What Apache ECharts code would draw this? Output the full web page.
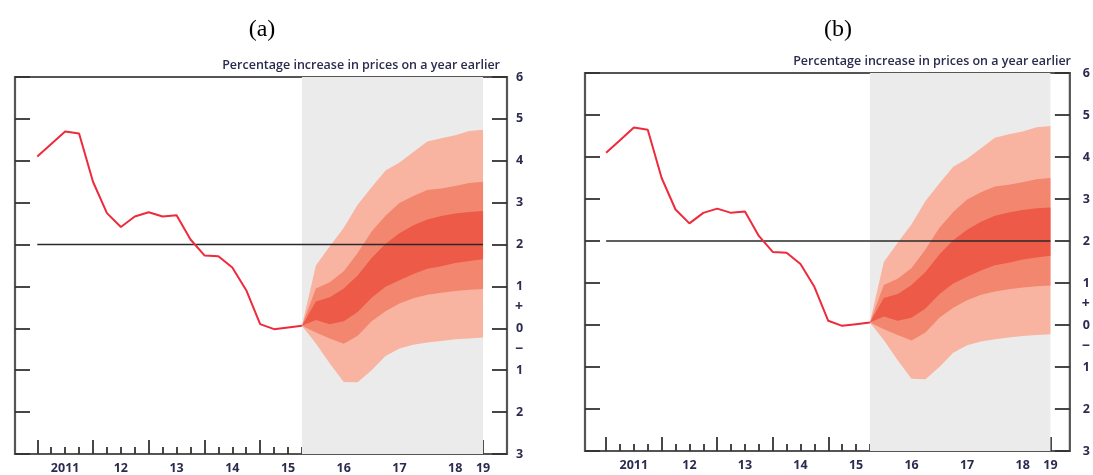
<!DOCTYPE html>
<html>
<head>
<meta charset="utf-8">
<script src="https://cdn.jsdelivr.net/npm/echarts@6/dist/echarts.min.js"></script>
<style>
  html, body { margin: 0; padding: 0; background: #ffffff; }
  #chart { width: 1093px; height: 475px; }
</style>
</head>
<body>
<div id="chart"></div>
<script>
// CPI inflation, percentage change on a year earlier (quarterly)
const cpiDates = [2011, 2011.25, 2011.5, 2011.75, 2012, 2012.25, 2012.5, 2012.75,
                  2013, 2013.25, 2013.5, 2013.75, 2014, 2014.25, 2014.5, 2014.75,
                  2015, 2015.25, 2015.5, 2015.75];
const cpiValues = [4.10, 4.40, 4.70, 4.65, 3.50, 2.75, 2.42, 2.67,
                   2.77, 2.67, 2.70, 2.12, 1.74, 1.72, 1.45, 0.91,
                   0.10, -0.02, 0.02, 0.06];

// Projection fan: quarterly dates and band edges (outer, middle, inner)
const fanDates = [2015.75, 2016, 2016.25, 2016.5, 2016.75, 2017, 2017.25,
                  2017.5, 2017.75, 2018, 2018.25, 2018.5, 2018.75, 2019];
const outerHigh = [0.06, 1.50, 1.96, 2.40, 2.95, 3.37, 3.77, 3.96, 4.21, 4.46, 4.54, 4.61, 4.71, 4.74];
const middleHigh = [0.06, 0.95, 1.10, 1.36, 1.80, 2.31, 2.69, 2.99, 3.16, 3.30, 3.34, 3.40, 3.47, 3.50];
const innerHigh = [0.06, 0.64, 0.74, 0.95, 1.26, 1.68, 2.02, 2.27, 2.46, 2.60, 2.68, 2.74, 2.78, 2.80];
const innerLow = [0.06, 0.20, 0.10, 0.17, 0.39, 0.73, 0.99, 1.15, 1.30, 1.42, 1.48, 1.56, 1.61, 1.65];
const middleLow = [0.06, -0.10, -0.24, -0.37, -0.18, 0.17, 0.41, 0.59, 0.72, 0.80, 0.85, 0.89, 0.92, 0.94];
const outerLow = [0.06, -0.36, -0.84, -1.28, -1.29, -1.00, -0.66, -0.48, -0.39, -0.34, -0.30, -0.26, -0.24, -0.22];

// 2% target line and projection period
const targetDates = [2011, 2019];
const targetValues = [2, 2];
const projectionSpan = [2015.75, 2019];

// Axis ticks and labels
const yMin = -3, yMax = 6, yStep = 1;
const yearTicks = [2011, 2012, 2013, 2014, 2015, 2016, 2017, 2018, 2019];
const xLabelPos = [2011.5, 2012.5, 2013.5, 2014.5, 2015.5, 2016.5, 2017.5, 2018.5, 2019];
const xLabelText = ['2011', '12', '13', '14', '15', '16', '17', '18', '19'];
const signPos = [0.5, -0.5];
const signText = ['+', '\u2212'];

const panelTitles = ['(a)', '(b)'];
const unitsNote = 'Percentage increase in prices on a year earlier';

// quarter tick marks between the year ticks
const quarterTicks = [];
for (let i = 0; i < yearTicks.length - 1; i++) {
  [0.25, 0.5, 0.75].forEach(q => quarterTicks.push(yearTicks[i] + q));
}

const COLORS = {
  line: '#ee2a3c', target: '#2a2a2a', shade: '#ebebeb',
  outer: '#f8b4a1', middle: '#f2866f', inner: '#ee5a48',
  frame: '#555555', tick: '#333333', label: '#2b2b4f'
};
const labelFont = { fontFamily: 'Open Sans', fontSize: 12.5, fontWeight: 700, color: COLORS.label };

const layouts = [
  { grid: { left: 15, top: 77, width: 492, height: 378 }, xMin: 2010.6, xMax: 2019.43,
    labelGap: 9, titleX: 262, titleY: 30, noteX: 500, noteY: 65 },
  { grid: { left: 585, top: 73, width: 488, height: 378 }, xMin: 2010.62, xMax: 2019.35,
    labelGap: 13, titleX: 838, titleY: 30, noteX: 1071, noteY: 61 }
];

const grids = [], xAxes = [], yAxes = [], series = [], graphics = [];

layouts.forEach((L, gi) => {
  grids.push(Object.assign({
    show: true, borderColor: COLORS.frame, borderWidth: 2.2, backgroundColor: 'transparent'
  }, L.grid));

  // years: long ticks + labels
  xAxes.push({
    type: 'value', gridIndex: gi, min: L.xMin, max: L.xMax, position: 'bottom',
    axisLine: { show: false, onZero: false },
    splitLine: { show: false },
    axisTick: { show: true, inside: true, length: 14, customValues: yearTicks,
                lineStyle: { color: COLORS.tick, width: 1.8 } },
    axisLabel: Object.assign({ show: true, margin: 8, customValues: xLabelPos,
                formatter: v => { const k = xLabelPos.indexOf(v); return k >= 0 ? xLabelText[k] : ''; } }, labelFont)
  });
  // quarters: short ticks
  xAxes.push({
    type: 'value', gridIndex: gi, min: L.xMin, max: L.xMax, position: 'bottom',
    axisLine: { show: false, onZero: false },
    splitLine: { show: false },
    axisTick: { show: true, inside: true, length: 7, customValues: quarterTicks,
                lineStyle: { color: COLORS.tick, width: 1.8 } },
    axisLabel: { show: false }
  });

  // right scale with labels
  yAxes.push({
    type: 'value', gridIndex: gi, min: yMin, max: yMax, interval: yStep, position: 'right',
    axisLine: { show: false, onZero: false }, splitLine: { show: false },
    axisTick: { show: true, inside: true, length: 15, lineStyle: { color: COLORS.tick, width: 1.8 } },
    axisLabel: Object.assign({ margin: L.labelGap, formatter: v => String(Math.abs(v)) }, labelFont)
  });
  // left tick marks
  yAxes.push({
    type: 'value', gridIndex: gi, min: yMin, max: yMax, interval: yStep, position: 'left',
    axisLine: { show: false, onZero: false }, splitLine: { show: false },
    axisTick: { show: true, inside: true, length: 15, lineStyle: { color: COLORS.tick, width: 1.8 } },
    axisLabel: { show: false }
  });
  // +/- sign markers either side of zero
  yAxes.push({
    type: 'value', gridIndex: gi, min: yMin, max: yMax, interval: yStep / 2, position: 'right',
    axisLine: { show: false, onZero: false }, splitLine: { show: false },
    axisTick: { show: false },
    axisLabel: Object.assign({ margin: L.labelGap - 1,
      formatter: v => { const k = signPos.indexOf(v); return k >= 0 ? signText[k] : ''; } }, labelFont, { fontSize: 14 })
  });

  const xi = gi * 2, yi = gi * 3;

  // projection-period shading
  series.push({
    type: 'custom', xAxisIndex: xi, yAxisIndex: yi, z: 1, silent: true,
    data: [[projectionSpan[0], yMax]],
    renderItem: (params, api) => {
      const a = api.coord([projectionSpan[0], yMax]);
      const b = api.coord([projectionSpan[1], yMin]);
      return { type: 'rect', shape: { x: a[0], y: a[1], width: b[0] - a[0], height: b[1] - a[1] },
               style: { fill: COLORS.shade } };
    }
  });

  // fan bands, widest first
  [[outerHigh, outerLow, COLORS.outer], [middleHigh, middleLow, COLORS.middle],
   [innerHigh, innerLow, COLORS.inner]].forEach(([hi, lo, color], k) => {
    series.push({
      type: 'custom', xAxisIndex: xi, yAxisIndex: yi, z: 2 + k, silent: true,
      data: [[fanDates[0], hi[0]]],
      renderItem: (params, api) => {
        const pts = [];
        for (let i = 0; i < fanDates.length; i++) pts.push(api.coord([fanDates[i], hi[i]]));
        for (let i = fanDates.length - 1; i >= 0; i--) pts.push(api.coord([fanDates[i], lo[i]]));
        return { type: 'polygon', shape: { points: pts }, style: { fill: color } };
      }
    });
  });

  // 2% target
  series.push({
    type: 'line', xAxisIndex: xi, yAxisIndex: yi, z: 6, silent: true, symbol: 'none',
    data: targetDates.map((d, i) => [d, targetValues[i]]),
    lineStyle: { color: COLORS.target, width: 1.6 }
  });

  // CPI outturns
  series.push({
    type: 'line', xAxisIndex: xi, yAxisIndex: yi, z: 7, silent: true, symbol: 'none',
    data: cpiDates.map((d, i) => [d, cpiValues[i]]),
    lineStyle: { color: COLORS.line, width: 2 }
  });

  graphics.push({
    type: 'text', x: L.titleX, y: L.titleY, silent: true,
    style: { text: panelTitles[gi], font: '24px "Liberation Serif"', fill: '#000',
             align: 'center', verticalAlign: 'middle' }
  });
  graphics.push({
    type: 'text', x: L.noteX, y: L.noteY, silent: true,
    style: { text: unitsNote, font: '600 12.5px "Open Sans"', fill: COLORS.label,
             align: 'right', verticalAlign: 'middle' }
  });
});

const chart = echarts.init(document.getElementById('chart'), null, { renderer: 'canvas' });
chart.setOption({
  animation: false,
  backgroundColor: '#ffffff',
  grid: grids,
  xAxis: xAxes,
  yAxis: yAxes,
  series: series,
  graphic: graphics
});
</script>
</body>
</html>
